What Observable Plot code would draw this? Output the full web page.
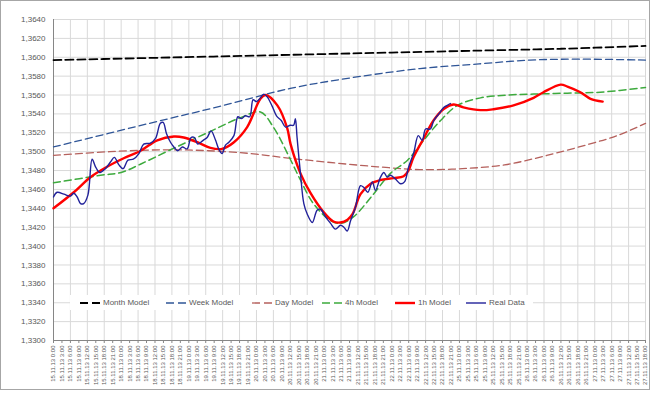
<!DOCTYPE html>
<html><head><meta charset="utf-8">
<script src="https://cdn.jsdelivr.net/npm/d3@7"></script>
<script src="https://cdn.jsdelivr.net/npm/@observablehq/plot@0.6"></script>
<style>
body{margin:0;background:#fff;}
#wrap{position:relative;width:650px;height:394px;font-family:"Liberation Sans",Arial,sans-serif;overflow:hidden;}
#frame{position:absolute;left:0;top:0;width:648px;height:388px;border:1px solid #a6a6a6;pointer-events:none;}
#legend{position:absolute;left:70px;top:295px;width:463px;height:15px;background:#fff;}
.item{position:absolute;top:0;height:15px;display:flex;align-items:center;font-size:8px;color:#595959;white-space:nowrap}
.item svg{margin-right:3px;display:block}
</style></head><body>
<div id="wrap"><div id="chart"></div><div id="legend"></div><div id="frame"></div></div>
<script>
// ---- tick labels ----
const days = ["15.11.13","18.11.13","19.11.13","20.11.13","21.11.13","22.11.13","25.11.13","26.11.13","27.11.13"];
const times = ["0:00","3:00","6:00","9:00","12:00","15:00","18:00","21:00"];
const xLabels = days.flatMap(d => times.map(t => d + " " + t)).slice(0, 71);
const yTicks = [1.3300,1.3320,1.3340,1.3360,1.3380,1.3400,1.3420,1.3440,1.3460,1.3480,1.3500,1.3520,1.3540,1.3560,1.3580,1.3600,1.3620,1.3640];

// ---- series (x = trading hour since 15.11.13 0:00) ----
const monthHours = [0,30,60,90,120,150,180,210];
const monthValues = [1.3597,1.3599,1.3601,1.3603,1.3605,1.3607,1.3609,1.3612];

const weekHours = [0,34,59,84,105,130,151,169,187,210];
const weekValues = [1.3505,1.3530,1.3548,1.3567,1.3578,1.3588,1.3593,1.3597,1.3598,1.3597];

const dayHours = [0,20,40,55,70,84,100,115,130,145,160,175,190,200,210];
const dayValues = [1.3496,1.3500,1.3502,1.3501,1.3498,1.3493,1.3488,1.3484,1.3481,1.3482,1.3486,1.3496,1.3508,1.3517,1.3530];

const h4Hours = [0,16.7,24,31,41.5,54.6,66.3,73.4,78,84,87.6,92.2,98.3,101.8,106.4,113.5,119.5,125.6,131.3,137.3,143.3,151.5,161,170.3,182.3,194,210];
const h4Values = [1.3467,1.3475,1.3478,1.3487,1.3502,1.3520,1.3536,1.3542,1.3526,1.3492,1.3470,1.3445,1.3427,1.3424,1.3431,1.3455,1.3477,1.3491,1.3512,1.3533,1.3549,1.3557,1.3560,1.3561,1.3562,1.3563,1.3568];

const h1Hours = [0,7.2,13.1,19,24.9,30.9,36.8,42.7,46.2,51,55.7,59.8,64,68.7,73.4,75.2,79.4,82.9,84.1,87.6,91.2,95.8,99.3,101.8,104.3,106.1,108.9,112.5,116,120.6,124.2,125.9,127.7,131.3,134.8,138.3,141.9,145.4,151.5,156.1,163.2,170.3,173.8,179.9,182.3,186.9,190.5,194.8];
const h1Values = [1.3440,1.3457,1.3473,1.3484,1.3493,1.3501,1.3512,1.3516,1.3515,1.3510,1.3504,1.3503,1.3510,1.3526,1.3556,1.3560,1.3549,1.3525,1.3508,1.3477,1.3456,1.3436,1.3426,1.3425,1.3428,1.3434,1.3455,1.3466,1.3470,1.3472,1.3474,1.3480,1.3494,1.3514,1.3533,1.3545,1.3550,1.3547,1.3544,1.3545,1.3549,1.3557,1.3563,1.3571,1.3569,1.3563,1.3556,1.3553];

const realHours = [0,1.3,3.7,6,7.2,8.4,9.6,10.7,12.2,13.7,14.9,16.4,18.4,20.2,21.6,23.2,24.7,26.4,28.3,30.3,32,34.4,36.2,37.9,38.9,40.1,41.5,42.7,44.1,45.7,47.4,48.8,50,51.2,53.1,54.5,55.9,57.5,58.6,59.8,61,62.2,64,65.4,66.6,68.1,69.6,70.8,72,73.4,74.6,75.8,77.6,79.1,80.8,82.3,84,85.2,85.8,86.4,87.6,88.8,90,91.8,93.5,94.7,96.5,98.3,100,101.8,103,104.2,105.4,107.1,108.9,110.1,111.5,113.1,114.2,116,117.2,118.4,119.5,121.3,123.1,124.5,126,127.8,129.4,130.8,132,133.7,134.9,136.7,138.5,139.7,140.8];
const realValues = [1.3452,1.3457,1.3455,1.3453,1.3456,1.3452,1.3445,1.3445,1.3454,1.3492,1.3484,1.3478,1.3482,1.3489,1.3494,1.3486,1.3482,1.3491,1.3492,1.3498,1.3508,1.3509,1.3514,1.3530,1.3531,1.3519,1.3510,1.3505,1.3501,1.3505,1.3503,1.3515,1.3515,1.3508,1.3512,1.3515,1.3522,1.3512,1.3503,1.3498,1.3507,1.3510,1.3517,1.3537,1.3535,1.3538,1.3537,1.3555,1.3553,1.3557,1.3561,1.3558,1.3548,1.3538,1.3533,1.3526,1.3528,1.3528,1.3535,1.3515,1.3477,1.3445,1.3434,1.3425,1.3438,1.3439,1.3431,1.3424,1.3418,1.3422,1.3420,1.3416,1.3427,1.3441,1.3464,1.3462,1.3457,1.3468,1.3459,1.3473,1.3478,1.3473,1.3475,1.3471,1.3466,1.3468,1.3484,1.3499,1.3517,1.3512,1.3524,1.3524,1.3533,1.3540,1.3547,1.3549,1.3551];

const seriesNames = ["Month Model","Week Model","Day Model","4h Model","1h Model","Real Data"];
const seriesHours = [monthHours, weekHours, dayHours, h4Hours, h1Hours, realHours];
const seriesValues = [monthValues, weekValues, dayValues, h4Values, h1Values, realValues];
const styles = [
  {stroke:"#000000", width:1.8, dash:"8,4"},
  {stroke:"#2f5597", width:1.3, dash:"7,4"},
  {stroke:"#b5605c", width:1.3, dash:"7,4"},
  {stroke:"#3daa3d", width:1.5, dash:"7,4"},
  {stroke:"#ff0000", width:2.4, dash:null},
  {stroke:"#22229a", width:1.4, dash:null}
];

const lineMarks = seriesNames.map((name, i) => {
  const data = seriesHours[i].map((h, k) => ({h, v: seriesValues[i][k]}));
  const s = styles[i];
  return Plot.line(data, {x:"h", y:"v", stroke:s.stroke, strokeWidth:s.width,
    strokeDasharray: s.dash || undefined, curve:"catmull-rom"});
});

const xTickHours = xLabels.map((_, i) => i * 3);
const gridHours = d3.range(0, 211, 6);
const fmtY = d => d.toFixed(4).replace(".", ",");

const chart = Plot.plot({
  width: 650, height: 394,
  marginLeft: 53, marginRight: 5, marginTop: 19, marginBottom: 54,
  style: {fontFamily: '"Liberation Sans", Arial, sans-serif', color: "#595959", background: "#fff"},
  x: {type: "linear", domain: [0, 210], label: null},
  y: {domain: [1.33, 1.364], label: null},
  marks: [
    Plot.gridY(yTicks, {stroke:"#d9d9d9", strokeOpacity:1}),
    Plot.gridX(gridHours, {stroke:"#d9d9d9", strokeOpacity:1}),
    Plot.ruleX([0], {stroke:"#868686"}),
    Plot.ruleY([1.33], {stroke:"#868686"}),
    Plot.axisY(yTicks, {tickSize:0, tickPadding:8, fontSize:8, tickFormat: fmtY, fill:"#595959", label: null}),
    Plot.axisX(xTickHours, {tickSize:3, tickPadding:2, tickRotate:-90, fontSize:6, stroke:"#868686",
      fill:"#595959", label: null, tickFormat: h => xLabels[Math.round(h/3)]}),
    ...lineMarks
  ]
});
document.getElementById("chart").appendChild(chart);

// legend inside plot area
const legendX = [10, 96, 182, 252, 325, 396];
const legend = document.getElementById("legend");
seriesNames.forEach((name, i) => {
  const s = styles[i];
  const item = document.createElement("div");
  item.className = "item";
  item.style.left = legendX[i] + "px";
  item.innerHTML = `<svg width="20" height="6"><line x1="0" y1="3" x2="20" y2="3" stroke="${s.stroke}" stroke-width="${s.width}" ${s.dash ? 'stroke-dasharray="8,4"' : ''}/></svg><span>${name}</span>`;
  legend.appendChild(item);
});
</script>
</body></html>
